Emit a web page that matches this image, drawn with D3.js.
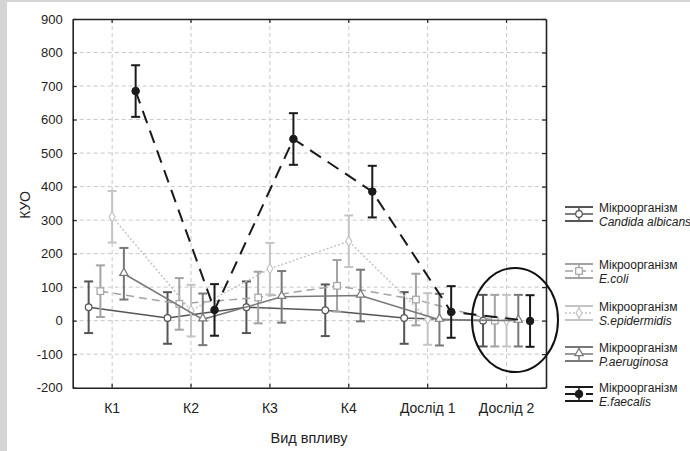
<!DOCTYPE html>
<html>
<head>
<meta charset="utf-8">
<script src="https://cdn.jsdelivr.net/npm/d3@7"></script>
<style>
  body { margin: 0; background: #fff; }
  svg text { font-family: "Liberation Sans", Arial, sans-serif; fill: #222; }
</style>
</head>
<body>
<div id="chart"></div>
<script>
// categories on x
var categories = ["К1", "К2", "К3", "К4", "Дослід 1", "Дослід 2"];
var yTicks = [-200, -100, 0, 100, 200, 300, 400, 500, 600, 700, 800, 900];

// series (mean values)
var seriesNames = ["Candida albicans", "E.coli", "S.epidermidis", "P.aeruginosa", "E.faecalis"];
var candida = [40, 8, 40, 31, 8, 0];
var ecoli = [88, 50, 69, 104, 63, 0];
var sepi = [310, 30, 155, 237, 5, 0];
var paer = [140, 4, 71, 75, 3, 0];
var efaec = [685, 32, 542, 385, 26, -1];
// half-length of error bars
var candidaErr = [77, 77, 77, 77, 77, 77];
var ecoliErr = [77, 77, 77, 77, 77, 77];
var sepiErr = [77, 77, 77, 77, 77, 77];
var paerErr = [77, 77, 77, 77, 77, 77];
var efaecErr = [77, 77, 77, 77, 77, 77];

var values = [candida, ecoli, sepi, paer, efaec];
var errors = [candidaErr, ecoliErr, sepiErr, paerErr, efaecErr];

// styles
var colors = ["#555555", "#a3a3a3", "#c4c4c4", "#787878", "#1a1a1a"];
var dashes = [null, "8,5", "2,2", null, "13,8"];
var lineW = [1.5, 1.5, 1.5, 1.5, 2];
var markers = ["circle", "square", "diamond", "triangle", "dot"];

var W = 690, H = 451;
var pLeft = 72.7, pRight = 546, pTop = 19, pBottom = 387.7;

var svg = d3.select("#chart").append("svg")
    .attr("width", W).attr("height", H);

// grey frame of the figure
svg.append("rect").attr("width", W).attr("height", H).attr("fill", "#d4d4d4");
svg.append("rect").attr("x", 7).attr("y", 2).attr("width", W - 7).attr("height", H - 2).attr("fill", "#fff");

var x = d3.scaleBand().domain(categories).range([pLeft, pRight]).padding(0);
var y = d3.scaleLinear().domain([-200, 900]).range([pBottom, pTop]);
var off = d3.scaleLinear().domain([0, 4]).range([-23.5, 23.5]);
function cx(i, s) { return x(categories[i]) + x.bandwidth() / 2 + off(s); }

// grid
svg.append("g").selectAll("line").data(yTicks.slice(1, -1)).enter().append("line")
    .attr("x1", pLeft).attr("x2", pRight)
    .attr("y1", function(d) { return y(d); }).attr("y2", function(d) { return y(d); })
    .attr("stroke", "#c8c8c8").attr("stroke-dasharray", "4,3");
svg.append("g").selectAll("line").data(categories).enter().append("line")
    .attr("y1", pTop).attr("y2", pBottom)
    .attr("x1", function(d) { return x(d) + x.bandwidth() / 2; })
    .attr("x2", function(d) { return x(d) + x.bandwidth() / 2; })
    .attr("stroke", "#c8c8c8").attr("stroke-dasharray", "4,3");

// axes
var gl = svg.append("g").attr("transform", "translate(" + pLeft + ",0)")
    .call(d3.axisLeft(y).tickValues(yTicks).tickFormat(function(d) { return String(d); })
      .tickSizeInner(-4).tickSizeOuter(0).tickPadding(10));
var gb = svg.append("g").attr("transform", "translate(0," + pBottom + ")")
    .call(d3.axisBottom(x).tickSizeInner(-4).tickSizeOuter(0).tickPadding(15));
var gt = svg.append("g").attr("transform", "translate(0," + pTop + ")")
    .call(d3.axisTop(x).tickSizeInner(-4).tickSizeOuter(0).tickFormat(""));
var gr = svg.append("g").attr("transform", "translate(" + pRight + ",0)")
    .call(d3.axisRight(y).tickValues(yTicks).tickSizeInner(-4).tickSizeOuter(0).tickFormat(""));
[gl, gb, gt, gr].forEach(function(g) {
  g.select(".domain").attr("stroke", "#222").attr("stroke-width", 1.6);
  g.selectAll(".tick line").attr("stroke", "#222").attr("stroke-width", 1.2);
  g.selectAll(".tick text").style("font-size", "13px").attr("fill", "#222");
});
gb.selectAll(".tick text").style("font-size", "14px");

// axis titles
svg.append("text").attr("transform", "translate(30,205) rotate(-90)")
    .attr("text-anchor", "middle").style("font-size", "14px").text("КУО");
svg.append("text").attr("x", 309).attr("y", 443)
    .attr("text-anchor", "middle").style("font-size", "14.5px").text("Вид впливу");

function drawMarker(g, type, px, py, color) {
  if (type == "circle") {
    g.append("circle").attr("cx", px).attr("cy", py).attr("r", 3.3)
      .attr("fill", "#fff").attr("stroke", color).attr("stroke-width", 1.2);
  } else if (type == "square") {
    g.append("rect").attr("x", px - 3.3).attr("y", py - 3.3).attr("width", 6.6).attr("height", 6.6)
      .attr("fill", "#fff").attr("stroke", color).attr("stroke-width", 1.2);
  } else if (type == "diamond") {
    g.append("path").attr("d", d3.symbol().type(d3.symbolDiamond).size(30)())
      .attr("transform", "translate(" + px + "," + py + ")")
      .attr("fill", "#fff").attr("stroke", color).attr("stroke-width", 1.2);
  } else if (type == "triangle") {
    g.append("path").attr("d", d3.symbol().type(d3.symbolTriangle).size(30)())
      .attr("transform", "translate(" + px + "," + (py - 0.8) + ")")
      .attr("fill", "#fff").attr("stroke", color).attr("stroke-width", 1.2);
  } else {
    g.append("circle").attr("cx", px).attr("cy", py).attr("r", 3.8)
      .attr("fill", color).attr("stroke", color);
  }
}

// series
values.forEach(function(vals, s) {
  var g = svg.append("g");
  var line = d3.line().x(function(d, i) { return cx(i, s); }).y(function(d) { return y(d); });
  g.append("path").datum(vals).attr("d", line)
    .attr("fill", "none").attr("stroke", colors[s]).attr("stroke-width", lineW[s])
    .attr("stroke-dasharray", dashes[s]);
  vals.forEach(function(v, i) {
    var px = cx(i, s), e = errors[s][i];
    var eb = g.append("g").attr("stroke", colors[s]).attr("stroke-width", 2);
    eb.append("line").attr("x1", px).attr("x2", px).attr("y1", y(v + e)).attr("y2", y(v - e));
    eb.append("line").attr("x1", px - 4.5).attr("x2", px + 4.5).attr("y1", y(v + e)).attr("y2", y(v + e));
    eb.append("line").attr("x1", px - 4.5).attr("x2", px + 4.5).attr("y1", y(v - e)).attr("y2", y(v - e));
    drawMarker(g, markers[s], px, y(v), colors[s]);
  });
});

// highlight ellipse
svg.append("ellipse").attr("cx", 515).attr("cy", 320).attr("rx", 43).attr("ry", 52)
    .attr("fill", "none").attr("stroke", "#111").attr("stroke-width", 2);

// legend
var legendY = [214, 271, 313, 354, 394];
seriesNames.forEach(function(name, s) {
  var g = svg.append("g").attr("transform", "translate(0," + legendY[s] + ")");
  var c = colors[s];
  g.append("line").attr("x1", 565).attr("x2", 593).attr("y1", -7).attr("y2", -7).attr("stroke", c).attr("stroke-width", 2);
  g.append("line").attr("x1", 565).attr("x2", 593).attr("y1", 7).attr("y2", 7).attr("stroke", c).attr("stroke-width", 2);
  g.append("line").attr("x1", 579).attr("x2", 579).attr("y1", -7).attr("y2", 7).attr("stroke", c).attr("stroke-width", 1.5);
  g.append("line").attr("x1", 565).attr("x2", 593).attr("y1", 0).attr("y2", 0).attr("stroke", c)
    .attr("stroke-width", lineW[s]).attr("stroke-dasharray", dashes[s]);
  drawMarker(g, markers[s], 579, 0, c);
  g.append("text").attr("x", 599).attr("y", -2).style("font-size", "12px").text("Мікроорганізм");
  g.append("text").attr("x", 599).attr("y", 12).style("font-size", "12px").style("font-style", "italic").text(name);
});
</script>
</body>
</html>
